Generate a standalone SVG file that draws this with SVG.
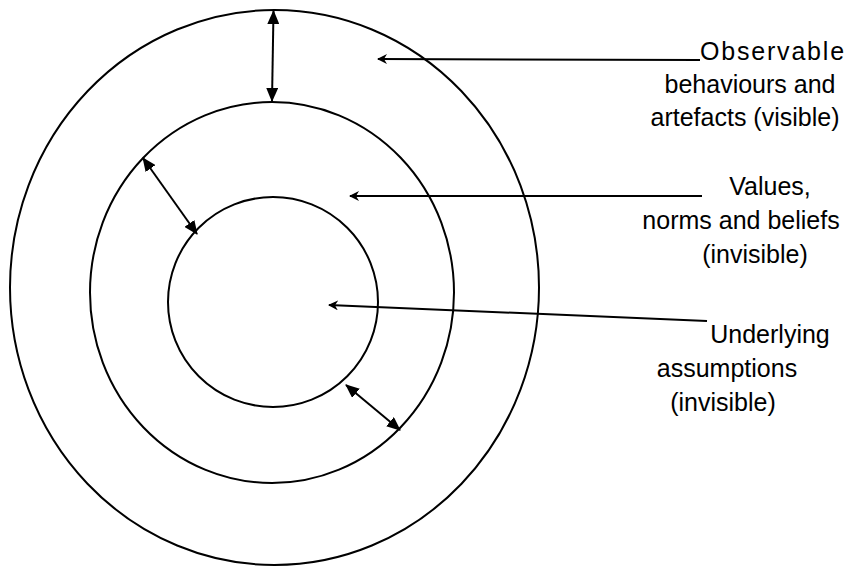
<svg xmlns="http://www.w3.org/2000/svg" width="858" height="569" viewBox="0 0 858 569">
<style>
.ring{fill:none;stroke:#000;stroke-width:2}
.lnk{fill:none;stroke:#000;stroke-width:2}
.lbl{font-family:"Liberation Sans",Arial,sans-serif;font-size:25px;fill:#000;text-anchor:middle}
</style>
<defs>
<marker id="tri" viewBox="0 0 14 12" refX="13" refY="6" markerWidth="14" markerHeight="12" markerUnits="userSpaceOnUse" orient="auto-start-reverse">
<path d="M0,0 L14,6 L0,12 z" fill="#000"/>
</marker>
<marker id="sm" viewBox="0 0 10 10" refX="9" refY="5" markerWidth="10" markerHeight="10" markerUnits="userSpaceOnUse" orient="auto">
<path d="M0,0 L10,5 L0,10 L3,5 z" fill="#000"/>
</marker>
</defs>
<rect width="858" height="569" fill="#fff"/>
<g id="outer"><ellipse class="ring" cx="274.5" cy="287.5" rx="264.5" ry="277.5"/></g>
<g id="middle"><ellipse class="ring" cx="272" cy="292.5" rx="182" ry="190.5"/></g>
<g id="inner"><ellipse class="ring" cx="273" cy="302" rx="105" ry="105"/></g>
<g id="connectors">
<line class="lnk" x1="273.5" y1="11" x2="272" y2="101" marker-start="url(#tri)" marker-end="url(#tri)"/>
<line class="lnk" x1="143" y1="158" x2="197" y2="234" marker-start="url(#tri)" marker-end="url(#tri)"/>
<line class="lnk" x1="346" y1="385" x2="400" y2="430" marker-start="url(#tri)" marker-end="url(#tri)"/>
<line class="lnk" x1="700" y1="60" x2="378" y2="59" marker-end="url(#sm)"/>
<line class="lnk" x1="702" y1="196" x2="350" y2="196" marker-end="url(#sm)"/>
<line class="lnk" x1="707" y1="321" x2="329" y2="305" marker-end="url(#sm)"/>
</g>
<g id="label-observable" class="lbl">
<text x="700" y="60" style="text-anchor:start;letter-spacing:1.8px">Observable</text>
<text x="750" y="93">behaviours and</text>
<text x="745" y="126">artefacts (visible)</text>
</g>
<g id="label-values" class="lbl">
<text x="770" y="195">Values,</text>
<text x="741" y="229">norms and beliefs</text>
<text x="755" y="263">(invisible)</text>
</g>
<g id="label-underlying" class="lbl">
<text x="770" y="343">Underlying</text>
<text x="727" y="377">assumptions</text>
<text x="723" y="411">(invisible)</text>
</g>
</svg>
